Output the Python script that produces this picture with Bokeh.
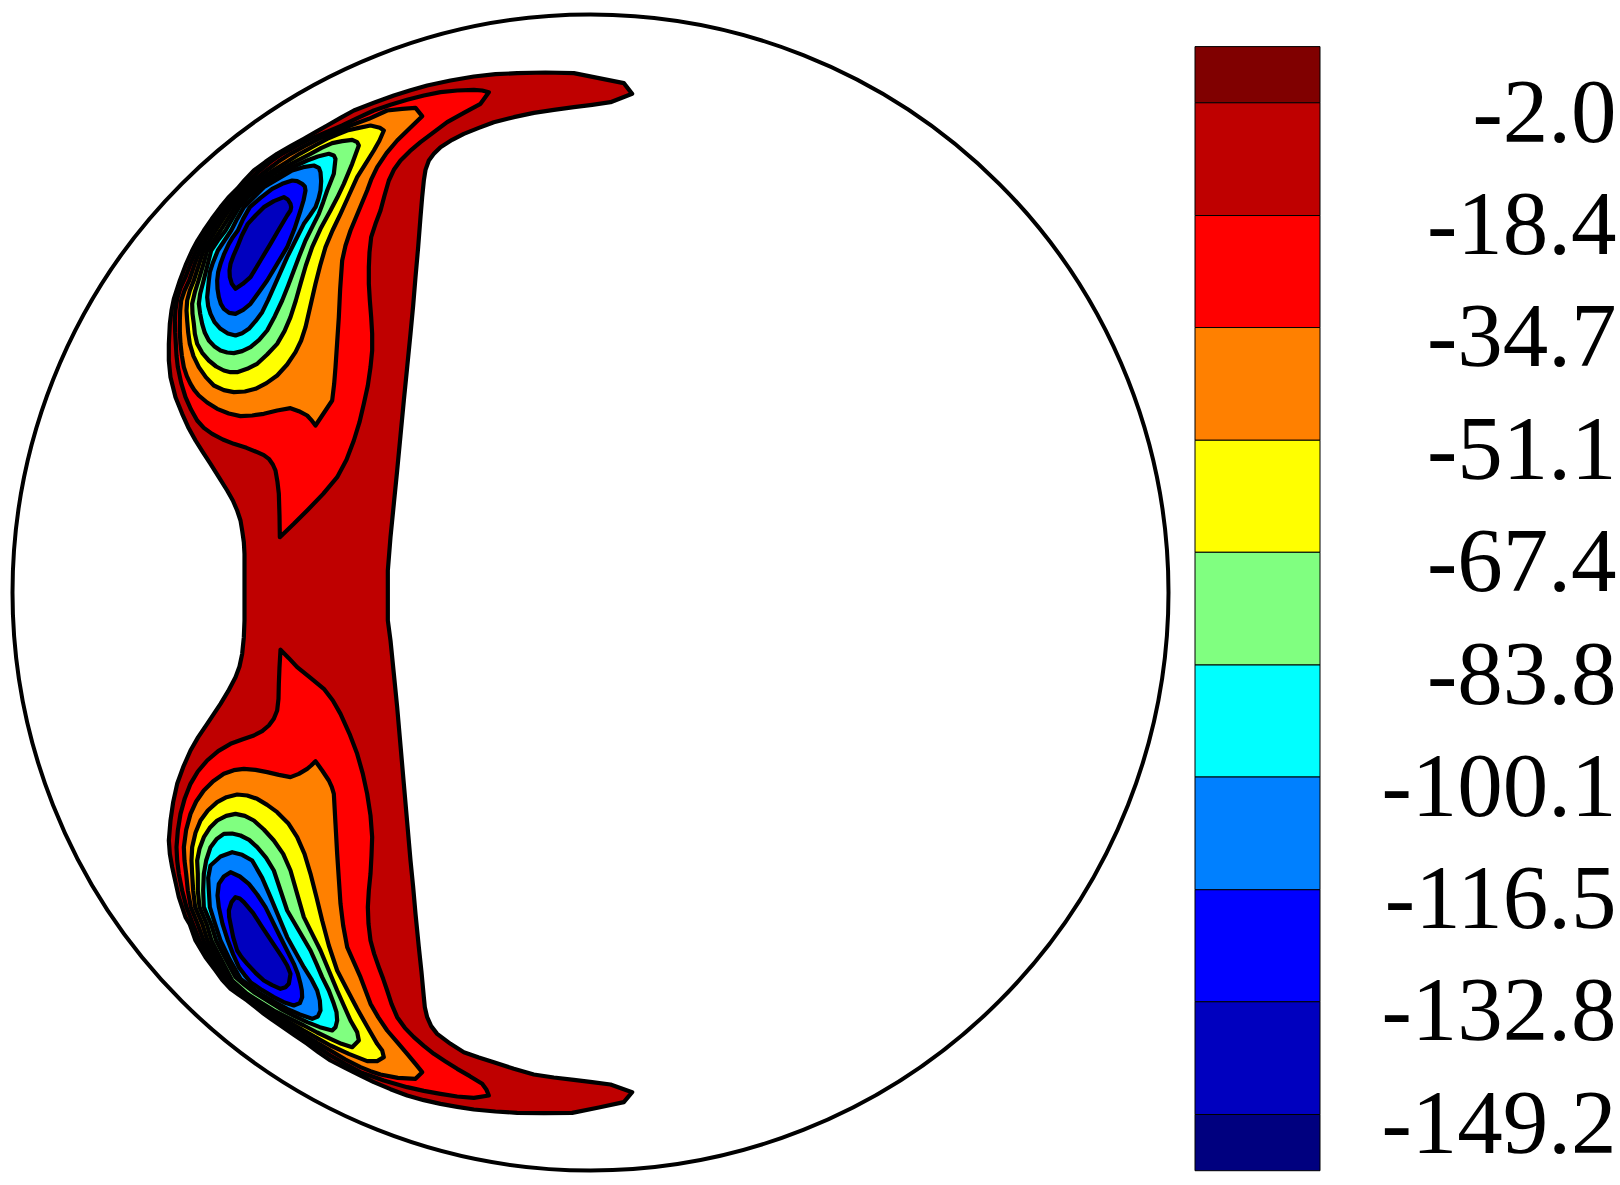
from bokeh.plotting import figure
from bokeh.models import Range1d, ColumnDataSource
from bokeh.core.properties import value
from bokeh.embed import file_html
from bokeh.resources import INLINE

# Contour outlines, in thirds of a pixel, per half of the section.
TOP_A_OUTER = [(1475,130),(1450,98),(1375,83),(1300,68),(1215,66),(1130,68),(1065,71),(1000,78),(930,90),(860,105),(810,119),(760,135),(700,157),(640,180),(600,202),(560,225),(525,245),(490,265),(450,287),(410,310),(375,334),(340,360),(313,388),(290,415),(263,442),(240,470),(214,505),(190,540),(171,570),(155,600),(137,640),(118,690),(100,745),(93,780),(88,820),(85,880),(85,930),(90,980),(105,1040),(125,1090),(143,1130),(165,1170),(187,1205),(210,1240),(235,1280),(260,1320),(277,1350),(290,1380),(300,1410),(305,1440),(310,1475),(312,1510),(312,1560)]
TOP_A_INNER = [(742,1560),(750,1460),(760,1360),(770,1260),(780,1155),(790,1050),(800,950),(810,850),(818,765),(825,680),(833,590),(840,500),(845,440),(850,390),(855,358),(865,330),(880,310),(900,290),(935,268),(970,250),(1015,232),(1060,215),(1120,200),(1180,187),(1240,178),(1300,170),(1355,163),(1410,155)]
BOT_A_OUTER = [(312,0),(310,50),(305,100),(297,138),(285,170),(263,212),(240,250),(220,280),(200,310),(173,350),(150,390),(128,440),(110,490),(98,545),(90,600),(85,660),(88,700),(95,740),(105,785),(115,830),(125,860),(135,890),(148,912),(165,960),(195,1010),(225,1050),(245,1078),(270,1105),(295,1123),(320,1140),(345,1160),(370,1180),(395,1198),(420,1215),(460,1243),(500,1270),(535,1296),(570,1320),(615,1343),(660,1365),(700,1385),(750,1406),(800,1425),(850,1439),(900,1450),(950,1459),(1000,1467),(1065,1473),(1130,1477),(1210,1478),(1295,1477),(1375,1461),(1450,1445),(1475,1415)]
BOT_A_INNER = [(1410,1392),(1355,1385),(1300,1378),(1240,1371),(1180,1362),(1120,1345),(1060,1325),(1015,1311),(970,1295),(930,1270),(890,1240),(872,1217),(860,1190),(853,1160),(850,1130),(843,1055),(835,980),(825,880),(818,800),(810,720),(800,605),(790,490),(780,375),(770,260),(760,160),(750,60),(742,0)]

TOP_B = [(1045,125),(1025,120),(1000,118),(950,120),(900,125),(850,135),(800,148),(750,163),(700,180),(652,202),(605,225),(557,245),(510,265),(467,287),(425,310),(390,334),(358,360),(328,388),(300,415),(274,442),(250,470),(225,505),(202,540),(183,570),(167,600),(150,640),(135,680),(120,712),(110,745),(105,778),(103,810),(104,845),(106,880),(108,915),(112,950),(122,997),(135,1040),(152,1078),(170,1110),(190,1132),(215,1150),(247,1167),(280,1180),(318,1192),(350,1205),(370,1214),(385,1225),(397,1242),(405,1260),(411,1295),(415,1330),(417,1395),(418,1460),(460,1420),(500,1380),(548,1330),(590,1280),(618,1228),(640,1170),(657,1115),(670,1060),(682,1005),(690,950),(695,900),(695,850),(692,800),(688,750),(685,700),(685,650),(687,605),(692,560),(705,520),(720,480),(732,435),(745,390),(760,358),(780,330),(808,302),(840,275),(880,245),(920,215),(970,187),(1020,160)]
TOP_C = [(845,197),(825,172),(785,175),(740,180),(685,205),(630,225),(582,245),(535,265),(492,287),(450,310),(413,334),(378,360),(343,388),(310,415),(284,442),(260,470),(236,505),(214,540),(195,570),(178,600),(163,640),(146,690),(132,720),(122,750),(119,780),(118,810),(118,845),(120,880),(124,915),(130,950),(139,977),(150,1000),(161,1018),(175,1035),(200,1056),(230,1075),(265,1089),(300,1097),(335,1095),(370,1090),(410,1080),(450,1073),(475,1082),(500,1095),(512,1108),(525,1125),(555,1080),(575,1050),(581,1000),(585,950),(590,875),(595,800),(599,715),(605,630),(615,585),(630,540),(655,480),(680,420),(693,385),(710,350),(738,308),(770,270),(807,234)]
TOP_D = [(730,240),(718,232),(690,225),(655,232),(620,240),(590,252),(560,265),(518,288),(478,310),(438,335),(398,360),(358,388),(322,415),(296,442),(272,470),(248,505),(226,540),(206,572),(189,600),(176,640),(160,690),(148,720),(140,750),(138,780),(140,810),(143,845),(148,880),(159,917),(175,950),(196,980),(220,1005),(250,1019),(280,1025),(313,1023),(345,1015),(378,998),(410,975),(440,942),(465,905),(482,870),(495,830),(510,765),(525,700),(539,645),(555,590),(576,540),(600,490),(625,435),(650,380),(675,340),(700,300),(717,270)]
TOP_E = [(655,285),(650,275),(635,268),(605,272),(575,278),(543,292),(510,310),(462,335),(415,360),(375,387),(335,415),(309,442),(284,470),(262,505),(240,540),(220,570),(200,600),(189,640),(174,690),(163,725),(155,760),(156,790),(160,820),(163,850),(170,880),(185,907),(205,930),(227,948),(250,960),(270,965),(290,965),(320,955),(350,940),(380,912),(410,880),(432,842),(450,800),(466,750),(480,700),(496,645),(515,590),(540,535),(570,480),(590,442),(610,400),(635,340)]
TOP_F = [(585,325),(580,315),(565,310),(532,318),(500,330),(467,345),(435,360),(392,388),(350,415),(322,442),(296,470),(275,505),(255,540),(232,570),(212,600),(202,640),(188,695),(179,730),(175,760),(179,790),(185,820),(193,847),(205,870),(221,887),(240,900),(260,906),(280,908),(305,902),(330,890),(356,868),(380,840),(403,797),(425,750),(443,705),(460,660),(477,615),(495,570),(515,530),(535,490),(548,455),(560,420),(570,395),(580,370)]
TOP_G = [(540,365),(535,352),(520,345),(488,350),(455,360),(412,385),(370,410),(340,440),(310,470),(290,505),(272,540),(252,570),(232,600),(216,640),(208,665),(205,690),(200,740),(203,767),(210,790),(222,815),(240,835),(262,849),(285,855),(305,848),(325,835),(345,812),(365,785),(383,748),(400,710),(420,665),(440,620),(465,570),(490,520),(508,495),(525,470),(534,445),(540,420),(542,392)]
TOP_H = [(495,420),(493,408),(485,400),(470,392),(455,390),(425,400),(395,415),(360,442),(328,470),(308,505),(292,540),(277,560),(265,580),(251,610),(240,640),(233,665),(230,690),(231,715),(235,740),(241,760),(250,775),(266,787),(285,790),(308,778),(330,760),(355,725),(380,690),(410,640),(440,590),(462,535),(480,480),(489,450)]
TOP_I = [(450,480),(452,470),(450,460),(442,447),(430,440),(400,452),(370,470),(345,495),(322,520),(304,555),(290,590),(279,615),(270,640),(267,660),(268,680),(274,700),(285,715),(307,700),(330,680),(360,630),(390,580),(415,537),(440,495)]

BOT_B = [(1045,1425),(1038,1408),(1025,1390),(988,1367),(950,1345),(915,1323),(880,1300),(850,1276),(820,1250),(793,1222),(770,1190),(753,1150),(740,1110),(728,1075),(715,1040),(701,1000),(690,960),(684,910),(682,860),(685,810),(690,760),(693,705),(695,650),(690,585),(680,520),(667,460),(650,400),(627,340),(600,280),(577,240),(550,205),(510,172),(470,140),(445,113),(420,88),(417,140),(415,190),(414,235),(410,270),(400,295),(385,315),(365,332),(340,345),(305,357),(270,370),(233,392),(200,420),(172,453),(150,490),(133,533),(120,580),(112,630),(108,680),(110,720),(115,760),(125,810),(138,860),(158,912),(177,960),(204,1005),(235,1050),(258,1080),(282,1105),(320,1136),(360,1166),(400,1194),(445,1224),(490,1252),(530,1279),(570,1305),(615,1331),(660,1355),(730,1380),(800,1400),(850,1411),(900,1420),(950,1428),(1000,1432)]
BOT_C = [(845,1355),(825,1330),(800,1300),(770,1265),(740,1230),(713,1190),(690,1150),(675,1110),(660,1070),(640,1025),(620,980),(608,915),(600,850),(595,775),(590,700),(585,610),(580,520),(574,500),(565,480),(545,450),(525,422),(512,435),(500,445),(475,460),(450,470),(415,463),(380,455),(345,448),(310,445),(280,449),(250,460),(218,482),(190,510),(167,543),(150,580),(137,628),(130,680),(132,720),(137,760),(142,810),(151,860),(172,912),(189,960),(213,1003),(240,1045),(263,1075),(288,1105),(320,1131),(360,1160),(400,1187),(445,1215),(490,1242),(530,1267),(570,1290),(615,1317),(660,1340),(690,1352),(720,1362),(772,1372),(825,1375)]
BOT_D = [(730,1310),(725,1290),(710,1270),(680,1218),(650,1165),(620,1108),(590,1050),(565,975),(545,900),(528,830),(510,760),(492,700),(470,650),(443,608),(410,575),(380,553),(350,535),(320,525),(290,522),(258,530),(230,545),(202,570),(180,600),(165,637),(155,680),(153,720),(155,760),(158,810),(164,860),(186,912),(201,960),(237,1025),(275,1090),(297,1108),(320,1126),(360,1153),(400,1180),(445,1205),(490,1230),(530,1253),(570,1275),(625,1300),(680,1322),(710,1322)]
BOT_E = [(655,1260),(650,1235),(630,1200),(610,1155),(590,1110),(565,1050),(540,990),(515,940),(490,890),(470,820),(450,750),(428,700),(400,660),(370,627),(340,600),(313,586),(285,580),(257,586),(230,600),(208,622),(190,650),(177,685),(170,720),(172,760),(172,810),(177,860),(199,912),(213,960),(245,1022),(275,1080),(297,1100),(320,1120),(360,1145),(400,1170),(445,1193),(490,1215),(530,1236),(570,1255),(603,1270),(635,1280)]
BOT_F = [(590,1200),(588,1175),(580,1150),(565,1110),(545,1070),(528,1030),(510,990),(475,930),(440,870),(420,810),(400,750),(377,712),(350,680),(326,658),(300,645),(275,639),(250,640),(228,656),(210,680),(197,720),(190,760),(188,810),(190,860),(212,912),(227,960),(255,1015),(285,1070),(312,1093),(340,1115),(380,1140),(420,1165),(460,1186),(500,1205),(538,1220),(575,1230),(585,1220)]
BOT_G = [(540,1170),(538,1140),(530,1110),(512,1075),(490,1040),(465,995),(440,950),(415,890),(390,830),(365,772),(335,720),(305,703),(275,695),(240,708),(210,735),(203,772),(205,810),(208,860),(222,905),(240,960),(268,1018),(300,1075),(330,1098),(360,1120),(400,1143),(440,1165),(478,1182),(515,1195),(532,1188)]
BOT_H = [(485,1130),(484,1110),(480,1090),(472,1060),(460,1030),(417,945),(375,860),(350,822),(325,790),(298,768),(270,755),(250,768),(235,790),(231,825),(235,860),(246,910),(262,960),(278,1002),(295,1040),(312,1063),(330,1085),(365,1109),(400,1130),(430,1145),(460,1155),(478,1148)]
BOT_I = [(450,1060),(440,1035),(425,1010),(395,965),(365,920),(338,878),(310,845),(298,834),(285,830),(273,845),(265,870),(266,890),(270,910),(278,950),(290,990),(303,1010),(320,1030),(345,1057),(370,1080),(395,1094),(420,1105),(435,1100),(445,1090)]

LEVELS = [-2.0, -18.4, -34.7, -51.1, -67.4, -83.8, -100.1, -116.5, -132.8, -149.2]
LEVEL_LABELS = ["-2.0", "-18.4", "-34.7", "-51.1", "-67.4", "-83.8", "-100.1", "-116.5", "-132.8", "-149.2"]
BAND_COLORS = ["#800000", "#BF0000", "#FF0000", "#FF8000", "#FFFF00", "#80FF80", "#00FFFF", "#0080FF", "#0000FF", "#0000BF", "#00007F"]

W, H = 1620, 1185
CIRCLE_X, CIRCLE_Y, CIRCLE_R = 590, 592, 578
BAR_LEFT, BAR_RIGHT = 1194.5, 1319.5
FIRST_LEVEL_Y, LAST_LEVEL_Y = 102.3, 1114.0

def px(points, ox, oy):
    return [ox + a / 3 for a, _ in points], [oy + b / 3 for _, b in points]

p = figure(width=W, height=H, output_backend="svg", toolbar_location=None,
           x_range=Range1d(0, W), y_range=Range1d(H, 0),
           min_border=0, min_border_left=0, min_border_right=0, min_border_top=0, min_border_bottom=0)
p.axis.visible = False
p.grid.visible = False
p.outline_line_color = None

# value axis for the colour bar, on the same canvas
per_px = (LEVELS[0] - LEVELS[-1]) / (LAST_LEVEL_Y - FIRST_LEVEL_Y)
def level_at(y):
    return LEVELS[0] - (y - FIRST_LEVEL_Y) * per_px
p.extra_y_ranges = {"levels": Range1d(level_at(H), level_at(0))}

p.circle(x=[CIRCLE_X], y=[CIRCLE_Y], radius=CIRCLE_R, fill_color=None, line_color="black", line_width=4)

TX, TY, BY = 140, 50, 620
ao_x, ao_y = px(TOP_A_OUTER, TX, TY)
bo_x, bo_y = px(BOT_A_OUTER, TX, BY)
bi_x, bi_y = px(BOT_A_INNER, TX, BY)
ti_x, ti_y = px(TOP_A_INNER, TX, TY)
xs = [ao_x + bo_x + bi_x + ti_x]
ys = [ao_y + bo_y + bi_y + ti_y]
cols = ["#BF0000"]
for pts, oy, c in [
    (TOP_B, TY, "#FF0000"), (TOP_C, TY, "#FF8000"), (TOP_D, TY, "#FFFF00"), (TOP_E, TY, "#80FF80"),
    (TOP_F, TY, "#00FFFF"), (TOP_G, TY, "#0080FF"), (TOP_H, TY, "#0000FF"), (TOP_I, TY, "#0000BF"),
    (BOT_B, BY, "#FF0000"), (BOT_C, BY, "#FF8000"), (BOT_D, BY, "#FFFF00"), (BOT_E, BY, "#80FF80"),
    (BOT_F, BY, "#00FFFF"), (BOT_G, BY, "#0080FF"), (BOT_H, BY, "#0000FF"), (BOT_I, BY, "#0000BF"),
]:
    x, y = px(pts, TX, oy)
    xs.append(x); ys.append(y); cols.append(c)
p.patches(xs, ys, fill_color=cols, line_color="black", line_width=4.2, line_join="round")

# colour bar: the bands meet at the levels, the end bands run half a step past them
half_step = (LEVELS[0] - LEVELS[-1]) / (len(LEVELS) - 1) / 2
edges = [LEVELS[0] + half_step] + LEVELS + [LEVELS[-1] - half_step]
bar = ColumnDataSource(dict(top=edges[:-1], bottom=edges[1:], color=BAND_COLORS,
                            left=[BAR_LEFT] * 11, right=[BAR_RIGHT] * 11))
p.quad(left="left", right="right", top="top", bottom="bottom", fill_color="color", line_color="black",
       line_width=1, source=bar, y_range_name="levels")

labels = ColumnDataSource(dict(x=[1616] * 10, y=LEVELS, t=LEVEL_LABELS))
p.text(x="x", y="y", text="t", source=labels, y_range_name="levels", text_font=value("Liberation Serif"),
       text_font_size="91px", text_align="right", text_baseline="alphabetic", text_color="black", y_offset=8.7)

open("out.html", "w").write(file_html(p, INLINE))
